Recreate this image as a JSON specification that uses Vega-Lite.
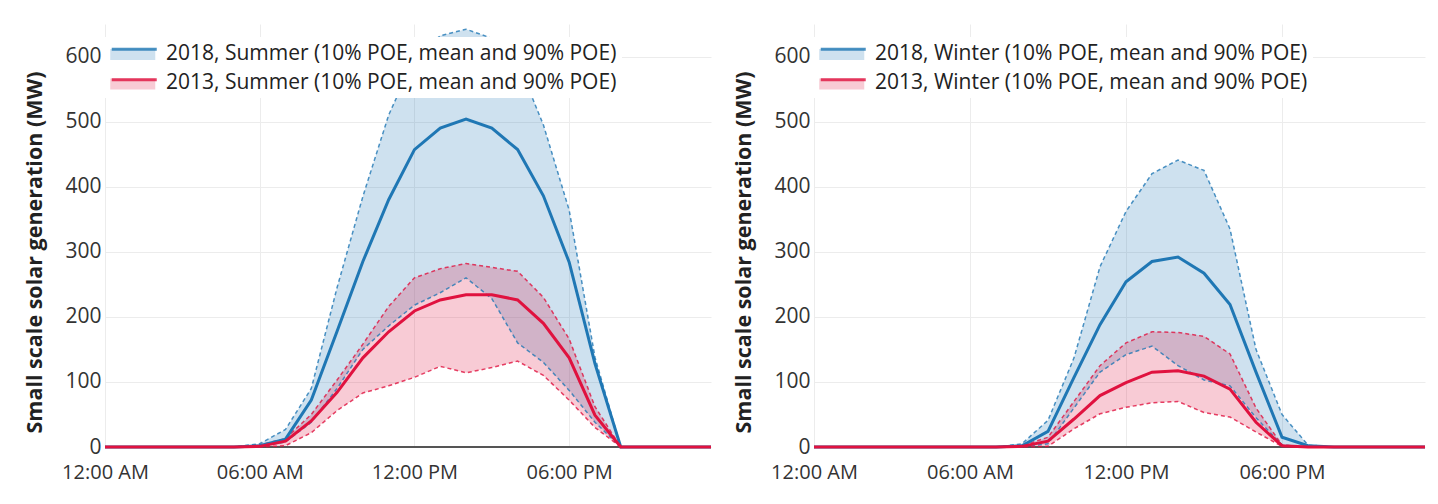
{
  "$schema": "https://vega.github.io/schema/vega-lite/v6.json",
  "background": "white",
  "padding": {"left": 24, "top": 24, "right": 10, "bottom": 5},
  "spacing": 16,
  "datasets": {
    "summer": [
      {"s":"2018","h":0,"m":0,"hi":0,"lo":0},{"s":"2018","h":1,"m":0,"hi":0,"lo":0},{"s":"2018","h":2,"m":0,"hi":0,"lo":0},{"s":"2018","h":3,"m":0,"hi":0,"lo":0},{"s":"2018","h":4,"m":0,"hi":0,"lo":0},{"s":"2018","h":5,"m":0,"hi":0,"lo":0},
      {"s":"2018","h":6,"m":2,"hi":5,"lo":0},{"s":"2018","h":7,"m":12,"hi":27,"lo":8},{"s":"2018","h":8,"m":72,"hi":90,"lo":38},{"s":"2018","h":9,"m":178,"hi":245,"lo":90},{"s":"2018","h":10,"m":285,"hi":385,"lo":150},{"s":"2018","h":11,"m":380,"hi":510,"lo":186},{"s":"2018","h":12,"m":457,"hi":598,"lo":218},{"s":"2018","h":13,"m":490,"hi":632,"lo":237},{"s":"2018","h":14,"m":504,"hi":642,"lo":260},{"s":"2018","h":15,"m":490,"hi":628,"lo":228},{"s":"2018","h":16,"m":457,"hi":592,"lo":160},{"s":"2018","h":17,"m":386,"hi":495,"lo":130},{"s":"2018","h":18,"m":284,"hi":364,"lo":87},{"s":"2018","h":19,"m":128,"hi":138,"lo":38},
      {"s":"2018","h":20,"m":0,"hi":0,"lo":0},{"s":"2018","h":21,"m":0,"hi":0,"lo":0},{"s":"2018","h":22,"m":0,"hi":0,"lo":0},{"s":"2018","h":23,"m":0,"hi":0,"lo":0},{"s":"2018","h":23.5,"m":0,"hi":0,"lo":0},
      {"s":"2013","h":0,"m":0,"hi":0,"lo":0},{"s":"2013","h":1,"m":0,"hi":0,"lo":0},{"s":"2013","h":2,"m":0,"hi":0,"lo":0},{"s":"2013","h":3,"m":0,"hi":0,"lo":0},{"s":"2013","h":4,"m":0,"hi":0,"lo":0},{"s":"2013","h":5,"m":0,"hi":0,"lo":0},
      {"s":"2013","h":6,"m":1,"hi":3,"lo":0},{"s":"2013","h":7,"m":9,"hi":13,"lo":2},{"s":"2013","h":8,"m":40,"hi":50,"lo":22},{"s":"2013","h":9,"m":84,"hi":103,"lo":56},{"s":"2013","h":10,"m":137,"hi":158,"lo":83},{"s":"2013","h":11,"m":177,"hi":216,"lo":94},{"s":"2013","h":12,"m":209,"hi":260,"lo":107},{"s":"2013","h":13,"m":226,"hi":274,"lo":124},{"s":"2013","h":14,"m":234,"hi":282,"lo":114},{"s":"2013","h":15,"m":234,"hi":276,"lo":122},{"s":"2013","h":16,"m":226,"hi":270,"lo":132},{"s":"2013","h":17,"m":190,"hi":230,"lo":110},{"s":"2013","h":18,"m":137,"hi":166,"lo":72},{"s":"2013","h":19,"m":49,"hi":62,"lo":30},
      {"s":"2013","h":20,"m":0,"hi":0,"lo":0},{"s":"2013","h":21,"m":0,"hi":0,"lo":0},{"s":"2013","h":22,"m":0,"hi":0,"lo":0},{"s":"2013","h":23,"m":0,"hi":0,"lo":0},{"s":"2013","h":23.5,"m":0,"hi":0,"lo":0}
    ],
    "winter": [
      {"s":"2018","h":0,"m":0,"hi":0,"lo":0},{"s":"2018","h":1,"m":0,"hi":0,"lo":0},{"s":"2018","h":2,"m":0,"hi":0,"lo":0},{"s":"2018","h":3,"m":0,"hi":0,"lo":0},{"s":"2018","h":4,"m":0,"hi":0,"lo":0},{"s":"2018","h":5,"m":0,"hi":0,"lo":0},{"s":"2018","h":6,"m":0,"hi":0,"lo":0},{"s":"2018","h":7,"m":0,"hi":0,"lo":0},
      {"s":"2018","h":8,"m":2,"hi":5,"lo":0},{"s":"2018","h":9,"m":24,"hi":41,"lo":5},{"s":"2018","h":10,"m":107,"hi":137,"lo":60},{"s":"2018","h":11,"m":188,"hi":277,"lo":115},{"s":"2018","h":12,"m":254,"hi":362,"lo":142},{"s":"2018","h":13,"m":285,"hi":420,"lo":155},{"s":"2018","h":14,"m":292,"hi":441,"lo":125},{"s":"2018","h":15,"m":267,"hi":425,"lo":103},{"s":"2018","h":16,"m":219,"hi":335,"lo":94},{"s":"2018","h":17,"m":115,"hi":150,"lo":45},{"s":"2018","h":18,"m":15,"hi":50,"lo":3},{"s":"2018","h":19,"m":2,"hi":3,"lo":0},
      {"s":"2018","h":20,"m":0,"hi":0,"lo":0},{"s":"2018","h":21,"m":0,"hi":0,"lo":0},{"s":"2018","h":22,"m":0,"hi":0,"lo":0},{"s":"2018","h":23,"m":0,"hi":0,"lo":0},{"s":"2018","h":23.5,"m":0,"hi":0,"lo":0},
      {"s":"2013","h":0,"m":0,"hi":0,"lo":0},{"s":"2013","h":1,"m":0,"hi":0,"lo":0},{"s":"2013","h":2,"m":0,"hi":0,"lo":0},{"s":"2013","h":3,"m":0,"hi":0,"lo":0},{"s":"2013","h":4,"m":0,"hi":0,"lo":0},{"s":"2013","h":5,"m":0,"hi":0,"lo":0},{"s":"2013","h":6,"m":0,"hi":0,"lo":0},{"s":"2013","h":7,"m":0,"hi":0,"lo":0},
      {"s":"2013","h":8,"m":1,"hi":2,"lo":0},{"s":"2013","h":9,"m":9,"hi":15,"lo":1},{"s":"2013","h":10,"m":43,"hi":70,"lo":28},{"s":"2013","h":11,"m":79,"hi":125,"lo":51},{"s":"2013","h":12,"m":99,"hi":160,"lo":61},{"s":"2013","h":13,"m":115,"hi":177,"lo":68},{"s":"2013","h":14,"m":117,"hi":176,"lo":70},{"s":"2013","h":15,"m":109,"hi":170,"lo":53},{"s":"2013","h":16,"m":89,"hi":143,"lo":46},{"s":"2013","h":17,"m":38,"hi":60,"lo":23},{"s":"2013","h":18,"m":2,"hi":3,"lo":1},
      {"s":"2013","h":19,"m":0,"hi":0,"lo":0},{"s":"2013","h":20,"m":0,"hi":0,"lo":0},{"s":"2013","h":21,"m":0,"hi":0,"lo":0},{"s":"2013","h":22,"m":0,"hi":0,"lo":0},{"s":"2013","h":23,"m":0,"hi":0,"lo":0},{"s":"2013","h":23.5,"m":0,"hi":0,"lo":0}
    ],
    "zero": [{"v": 0}]
  },
  "hconcat": [
    {
      "width": 606,
      "height": 423,
      "data": {"name": "summer"},
      "layer": [
        {
          "data": {"name": "zero"},
          "mark": {"type": "rule", "color": "#555555", "strokeWidth": 2},
          "encoding": {"y": {"field": "v", "type": "quantitative", "scale": {"domain": [0, 650], "nice": false}}}
        },
        {
          "mark": {"type": "area", "fillOpacity": 0.22},
          "encoding": {
            "x": {"field": "h", "type": "quantitative", "scale": {"domain": [0, 23.5], "nice": false, "zero": false},
                  "axis": {"values": [0, 6, 12, 18], "labelExpr": "datum.value == 0 ? '12:00 AM' : datum.value == 6 ? '06:00 AM' : datum.value == 12 ? '12:00 PM' : '06:00 PM'", "title": null}},
            "y": {"field": "hi", "type": "quantitative", "scale": {"domain": [0, 650], "nice": false},
                  "axis": {"values": [0, 100, 200, 300, 400, 500, 600], "title": "Small scale solar generation (MW)"}},
            "y2": {"field": "lo"},
            "fill": {"field": "s", "type": "nominal", "scale": {"domain": ["2018", "2013"], "range": ["#1f77b4", "#e0123f"]},
                     "legend": {"orient": "none", "legendX": 0, "legendY": 13, "title": null, "symbolType": "M-1,-0.4H3V0.578H-1Z", "symbolSize": 506.25, "symbolStrokeWidth": 0, "symbolOpacity": 0.22, "fillColor": "white", "padding": 5, "rowPadding": 7.5, "labelOffset": 33, "labelFontSize": 21, "labelLimit": 700, "labelColor": "#222222",
                                "labelExpr": "datum.label + ', Summer (10% POE, mean and 90% POE)'"}}
          }
        },
        {
          "transform": [{"calculate": "'L' + datum.s", "as": "k"}],
          "mark": {"type": "line", "strokeWidth": 1.5, "strokeDash": [4, 3], "opacity": 0.8},
          "encoding": {
            "x": {"field": "h", "type": "quantitative"},
            "y": {"field": "hi", "type": "quantitative"},
            "stroke": {"field": "k", "type": "nominal", "scale": {"domain": ["L2018", "L2013"], "range": ["#1f77b4", "#e0123f"]}}
          }
        },
        {
          "transform": [{"calculate": "'L' + datum.s", "as": "k"}],
          "mark": {"type": "line", "strokeWidth": 1.5, "strokeDash": [4, 3], "opacity": 0.8},
          "encoding": {
            "x": {"field": "h", "type": "quantitative"},
            "y": {"field": "lo", "type": "quantitative"},
            "stroke": {"field": "k", "type": "nominal"}
          }
        },
        {
          "transform": [{"calculate": "'L' + datum.s", "as": "k"}],
          "mark": {"type": "line", "strokeWidth": 3},
          "encoding": {
            "x": {"field": "h", "type": "quantitative"},
            "y": {"field": "m", "type": "quantitative"},
            "stroke": {"field": "k", "type": "nominal",
                       "legend": {"orient": "none", "legendX": 0, "legendY": 13, "title": null, "symbolType": "M-1,-0.507H3", "symbolSize": 506.25, "symbolStrokeWidth": 3, "symbolDash": [], "symbolFillColor": "transparent", "symbolOpacity": 1, "padding": 5, "rowPadding": 7.5, "labelOffset": 33, "labelFontSize": 21, "labelExpr": "''"}}
          }
        }
      ]
    },
    {
      "width": 611,
      "height": 423,
      "data": {"name": "winter"},
      "layer": [
        {
          "data": {"name": "zero"},
          "mark": {"type": "rule", "color": "#555555", "strokeWidth": 2},
          "encoding": {"y": {"field": "v", "type": "quantitative", "scale": {"domain": [0, 650], "nice": false}}}
        },
        {
          "mark": {"type": "area", "fillOpacity": 0.22},
          "encoding": {
            "x": {"field": "h", "type": "quantitative", "scale": {"domain": [0, 23.5], "nice": false, "zero": false},
                  "axis": {"values": [0, 6, 12, 18], "labelExpr": "datum.value == 0 ? '12:00 AM' : datum.value == 6 ? '06:00 AM' : datum.value == 12 ? '12:00 PM' : '06:00 PM'", "title": null}},
            "y": {"field": "hi", "type": "quantitative", "scale": {"domain": [0, 650], "nice": false},
                  "axis": {"values": [0, 100, 200, 300, 400, 500, 600], "title": "Small scale solar generation (MW)"}},
            "y2": {"field": "lo"},
            "fill": {"field": "s", "type": "nominal", "scale": {"domain": ["2018", "2013"], "range": ["#1f77b4", "#e0123f"]},
                     "legend": {"orient": "none", "legendX": 0, "legendY": 13, "title": null, "symbolType": "M-1,-0.4H3V0.578H-1Z", "symbolSize": 506.25, "symbolStrokeWidth": 0, "symbolOpacity": 0.22, "fillColor": "white", "padding": 5, "rowPadding": 7.5, "labelOffset": 33, "labelFontSize": 21, "labelLimit": 700, "labelColor": "#222222",
                                "labelExpr": "datum.label + ', Winter (10% POE, mean and 90% POE)'"}}
          }
        },
        {
          "transform": [{"calculate": "'L' + datum.s", "as": "k"}],
          "mark": {"type": "line", "strokeWidth": 1.5, "strokeDash": [4, 3], "opacity": 0.8},
          "encoding": {
            "x": {"field": "h", "type": "quantitative"},
            "y": {"field": "hi", "type": "quantitative"},
            "stroke": {"field": "k", "type": "nominal", "scale": {"domain": ["L2018", "L2013"], "range": ["#1f77b4", "#e0123f"]}}
          }
        },
        {
          "transform": [{"calculate": "'L' + datum.s", "as": "k"}],
          "mark": {"type": "line", "strokeWidth": 1.5, "strokeDash": [4, 3], "opacity": 0.8},
          "encoding": {
            "x": {"field": "h", "type": "quantitative"},
            "y": {"field": "lo", "type": "quantitative"},
            "stroke": {"field": "k", "type": "nominal"}
          }
        },
        {
          "transform": [{"calculate": "'L' + datum.s", "as": "k"}],
          "mark": {"type": "line", "strokeWidth": 3},
          "encoding": {
            "x": {"field": "h", "type": "quantitative"},
            "y": {"field": "m", "type": "quantitative"},
            "stroke": {"field": "k", "type": "nominal",
                       "legend": {"orient": "none", "legendX": 0, "legendY": 13, "title": null, "symbolType": "M-1,-0.507H3", "symbolSize": 506.25, "symbolStrokeWidth": 3, "symbolDash": [], "symbolFillColor": "transparent", "symbolOpacity": 1, "padding": 5, "rowPadding": 7.5, "labelOffset": 33, "labelFontSize": 21, "labelExpr": "''"}}
          }
        }
      ]
    }
  ],
  "resolve": {
    "scale": {"fill": "independent", "stroke": "independent"},
    "legend": {"fill": "independent", "stroke": "independent"}
  },
  "config": {
    "font": "Open Sans",
    "view": {"stroke": null},
    "legend": {"labelFont": "Open Sans"},
    "axis": {"labelFont": "Open Sans", "titleFont": "Open Sans", "ticks": false, "domain": false, "grid": true, "gridColor": "#ececec", "gridWidth": 1, "labelColor": "#333333", "titleColor": "#222222", "labelFlush": false},
    "axisY": {"labelFontSize": 21, "labelPadding": 4, "titleFontSize": 21.5, "titleFontWeight": "bold", "titlePadding": 18, "titleY": 228},
    "axisX": {"labelFontSize": 20, "labelPadding": 15}
  }
}
